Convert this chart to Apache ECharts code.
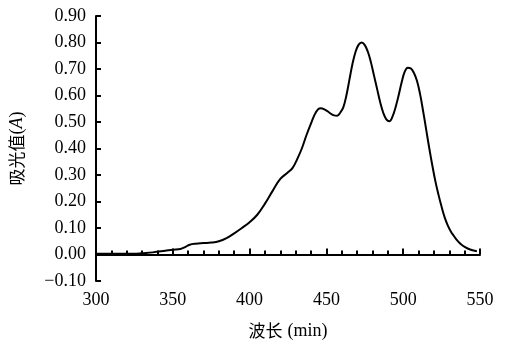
<!DOCTYPE html>
<html>
<head>
<meta charset="utf-8">
<script src="https://cdn.jsdelivr.net/npm/echarts@6/dist/echarts.min.js"></script>
<style>
html,body{margin:0;padding:0;background:#fff;}
#chart{width:505px;height:345px;}
</style>
</head>
<body>
<div id="chart"></div>
<script>
// Wavelength (x) values
const wavelength = [300,310,320,325,330,337,345,350,355,358,361,365,370,375,380,385,390,395,400,405,410,415,420,425,428,431,434,437,440,443,446,449,452,455,457,459,461,463,465,467,469,471,473,475,477,479,481,483,485,487,489,491,493,495,497,499,501,503,505,507,509,511,513,515,517,519,521,523,525,527,529,531,533,535,537,540,544,548];
// Absorbance (y) values
const absorbance = [0.003,0.003,0.003,0.003,0.005,0.008,0.014,0.018,0.021,0.028,0.037,0.041,0.043,0.045,0.050,0.062,0.080,0.100,0.122,0.150,0.192,0.240,0.285,0.310,0.327,0.360,0.400,0.450,0.495,0.535,0.552,0.547,0.535,0.525,0.524,0.535,0.555,0.600,0.660,0.720,0.765,0.792,0.800,0.790,0.765,0.725,0.675,0.625,0.575,0.535,0.510,0.503,0.520,0.555,0.600,0.650,0.690,0.705,0.702,0.685,0.655,0.605,0.540,0.470,0.400,0.335,0.275,0.225,0.180,0.140,0.110,0.087,0.070,0.054,0.042,0.029,0.018,0.012];
// Axis settings
const xTicks = [300,350,400,450,500,550];
const yTicks = [-0.10,0.00,0.10,0.20,0.30,0.40,0.50,0.60,0.70,0.80,0.90];

const points = wavelength.map((w,i)=>[w,absorbance[i]]);
const serif = '"Liberation Serif","Times New Roman",serif';
const cjk = '"Noto Sans CJK SC",serif';

const chart = echarts.init(document.getElementById('chart'));
chart.setOption({
  animation:false,
  backgroundColor:'#fff',
  grid:{left:91,right:25,top:16,bottom:58,containLabel:false},
  xAxis:{
    type:'value',
    min:xTicks[0], max:xTicks[xTicks.length-1], interval:50,
    name:'{a|波长} {b|(min)}', nameLocation:'middle', nameGap:41,
    nameTextStyle:{color:'#000',fontSize:18,
      rich:{
        a:{fontSize:17,fontFamily:cjk,color:'#000'},
        b:{fontSize:18,fontFamily:serif,color:'#000'}
      }},
    axisLine:{show:true,lineStyle:{color:'#000',width:2}},
    axisTick:{show:true,inside:true,length:6,lineStyle:{color:'#000',width:2}},
    minorTick:{show:true,splitNumber:5,length:4,lineStyle:{color:'#000',width:2}},
    axisLabel:{color:'#000',fontSize:18,fontFamily:serif,margin:10},
    splitLine:{show:false}
  },
  yAxis:{
    type:'value',
    min:yTicks[0], max:yTicks[yTicks.length-1], interval:0.1,
    name:'{a|吸光值}{b|(}{c|A}{b|)}', nameLocation:'middle', nameGap:70, nameRotate:90,
    nameTextStyle:{color:'#000',fontSize:17,
      rich:{
        a:{fontSize:17,fontFamily:cjk,color:'#000'},
        b:{fontSize:18,fontFamily:serif,color:'#000'},
        c:{fontSize:18,fontFamily:serif,fontStyle:'italic',color:'#000'}
      }},
    axisLine:{show:true,lineStyle:{color:'#000',width:2}},
    axisTick:{show:true,inside:true,length:5,lineStyle:{color:'#000',width:2}},
    axisLabel:{color:'#000',fontSize:18,fontFamily:serif,margin:10,
      formatter:v=>v.toFixed(2).replace('-','−')},
    splitLine:{show:false}
  },
  series:[{
    type:'line',
    data:points,
    smooth:0.4,
    showSymbol:false,
    lineStyle:{color:'#000',width:2}
  }]
});
</script>
</body>
</html>
